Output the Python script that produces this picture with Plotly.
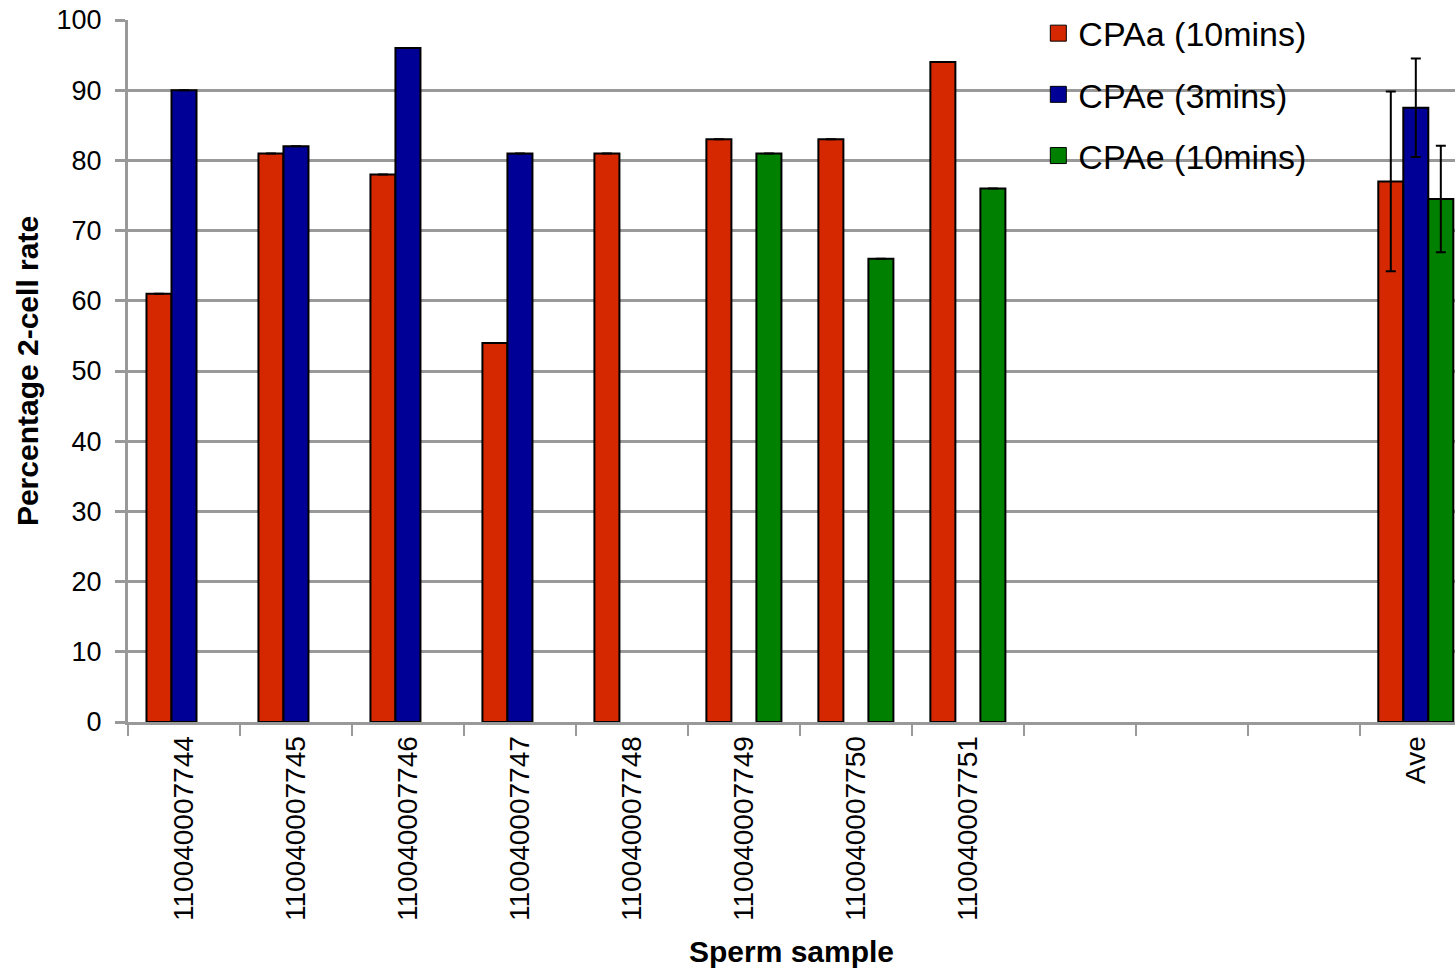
import plotly.graph_objects as go

categories = ["110040007744", "110040007745", "110040007746", "110040007747",
              "110040007748", "110040007749", "110040007750", "110040007751",
              " ", "  ", "   ", "Ave"]
cpaa_10 = [61, 81, 78, 54, 81, 83, 83, 94, None, None, None, 77]
cpae_3 = [90, 82, 96, 81, None, None, None, None, None, None, None, 87.5]
cpae_10 = [None, None, None, None, None, 81, 66, 76, None, None, None, 74.5]
err_cpaa_10 = [None] * 11 + [12.8]
err_cpae_3 = [None] * 11 + [7.0]
err_cpae_10 = [None] * 11 + [7.6]

series = [
    ("CPAa (10mins)", cpaa_10, err_cpaa_10, "#D62800"),
    ("CPAe (3mins)", cpae_3, err_cpae_3, "#000096"),
    ("CPAe (10mins)", cpae_10, err_cpae_10, "#008000"),
]

fig = go.Figure()
for i, (name, vals, errs, col) in enumerate(series):
    fig.add_trace(go.Bar(
        name=name, x=categories, y=vals,
        marker=dict(color=col, line=dict(color="black", width=2)),
        error_y=dict(type="data", array=errs, visible=True, color="black",
                     thickness=2, width=5),
        legendgroup=f"g{i}", showlegend=False,
    ))
for i, (name, vals, errs, col) in enumerate(series):
    fig.add_trace(go.Scatter(
        name=name, x=[None], y=[None], mode="markers",
        marker=dict(symbol="square", size=20, color=col,
                    line=dict(color="black", width=1)),
        legendgroup=f"g{i}", showlegend=True,
    ))

fig.update_layout(
    width=1455, height=970,
    margin=dict(l=128, r=0, t=20, b=248, autoexpand=False),
    paper_bgcolor="white", plot_bgcolor="white",
    barmode="group", bargap=0.33, bargroupgap=0,
    font=dict(family="Liberation Sans, Arial, sans-serif", color="black"),
    showlegend=True,
    legend=dict(x=0.686, y=1.022, xanchor="left", yanchor="top",
                bgcolor="rgba(0,0,0,0)", font=dict(size=34),
                traceorder="grouped", tracegroupgap=14, itemwidth=30),
)
fig.update_xaxes(
    type="category", categoryorder="array", categoryarray=categories,
    range=[-0.5, 11.35], automargin=False,
    tickangle=-90, tickfont=dict(size=28),
    ticks="outside", tickson="boundaries", ticklen=11, tickwidth=2, tickcolor="#999999",
    showline=True, linecolor="#999999", linewidth=3,
    showgrid=False,
    title=dict(text="<b>Sperm sample</b>", font=dict(size=30), standoff=22),
)
fig.update_yaxes(
    range=[0, 100], dtick=10, automargin=False,
    tickfont=dict(size=27), ticklabelstandoff=8,
    ticks="outside", ticklen=10, tickwidth=3, tickcolor="#999999",
    showline=True, linecolor="#999999", linewidth=3,
    showgrid=True, gridcolor="#999999", gridwidth=3,
    zeroline=False,
    title=dict(text="<b>Percentage 2-cell rate</b>", font=dict(size=30), standoff=10),
)

fig.write_html("out.html", config={"displayModeBar": False},
               post_script="document.body.style.margin='0px';")
